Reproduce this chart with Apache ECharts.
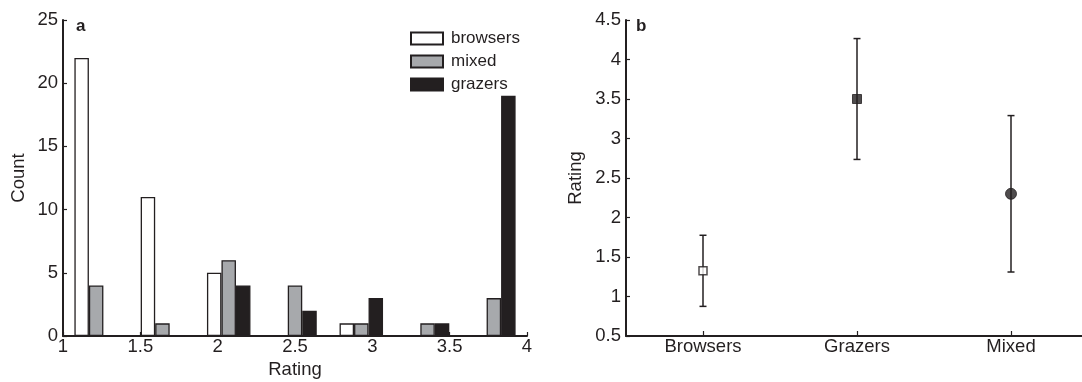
<!DOCTYPE html>
<html>
<head>
<meta charset="utf-8">
<script src="https://cdn.jsdelivr.net/npm/echarts@6/dist/echarts.min.js"></script>
<style>
html,body{margin:0;padding:0;background:#fff;}
#chart{width:1082px;height:382px;}
</style>
</head>
<body>
<div id="chart"></div>
<script>
// ---- Panel a: histogram ----
const binCenters = [1.2143, 1.6429, 2.0714, 2.5, 2.9286, 3.3571, 3.7857];
const browsers = [22, 11, 5, 0, 1, 0, 0];
const mixed    = [4, 1, 6, 4, 1, 1, 3];
const grazers  = [0, 0, 4, 2, 3, 1, 19];
const histTicksX = ['1', '1.5', '2', '2.5', '3', '3.5', '4'];

// ---- Panel b: means with error bars ----
const groups = ['Browsers', 'Grazers', 'Mixed'];
const means  = [1.325, 3.5, 2.3];
const errs   = [0.45, 0.765, 0.99];

const FONT = '"Liberation Sans", Arial, Helvetica, sans-serif';
const INK = '#231f20';
const GREY = '#a7a9ac';

function pairs(xs, ys){ return xs.map((x,i)=>[x, ys[i]]); }

const chart = echarts.init(document.getElementById('chart'), null, {renderer:'canvas'});

const axisCommon = {
  axisLine: {show:true, lineStyle:{color:INK, width:2}},
  axisTick: {show:true, inside:true, length:4, lineStyle:{color:INK, width:1.2}},
  splitLine: {show:false},
  axisLabel: {color:INK, fontSize:18.5, fontFamily:FONT},
  nameTextStyle: {color:INK, fontSize:18.5, fontFamily:FONT}
};

const barStyle = (c) => ({color:c, borderColor:INK, borderWidth:1.3});

const option = {
  backgroundColor:'#fff',
  animation:false,
  textStyle:{fontFamily:FONT},
  grid: [
    {left:63, right:555, top:20, bottom:46, containLabel:false, outerBoundsMode:'none'},
    {left:626, right:-6, top:20, bottom:46, containLabel:false, outerBoundsMode:'none'}
  ],
  legend: {
    data:['browsers','mixed','grazers'],
    orient:'vertical',
    left:410, top:30,
    itemWidth:32, itemHeight:12, itemGap:6,
    padding:0,
    icon:'rect',
    textStyle:{color:INK, fontSize:17, fontFamily:FONT, padding:[0,0,0,3]}
  },
  xAxis: [
    Object.assign({}, axisCommon, {
      gridIndex:0, type:'value', min:1, max:4, interval:0.5,
      name:'Rating', nameLocation:'middle', nameGap:22,
      axisLabel: Object.assign({}, axisCommon.axisLabel, {margin:1,
        formatter:(v)=>{ const i = Math.round((v-1)/0.5); return histTicksX[i]; }})
    }),
    Object.assign({}, axisCommon, {
      gridIndex:1, type:'category', data:groups, boundaryGap:true,
      axisTick:{show:true, inside:true, length:5, alignWithLabel:true, lineStyle:{color:INK, width:1.2}},
      axisLabel: Object.assign({}, axisCommon.axisLabel, {margin:1})
    })
  ],
  yAxis: [
    Object.assign({}, axisCommon, {
      gridIndex:0, type:'value', min:0, max:25, interval:5,
      name:'Count', nameLocation:'middle', nameGap:35, nameRotate:90,
      axisLabel: Object.assign({}, axisCommon.axisLabel, {margin:5})
    }),
    Object.assign({}, axisCommon, {
      gridIndex:1, type:'value', min:0.5, max:4.5, interval:0.5,
      name:'Rating', nameLocation:'middle', nameGap:41, nameRotate:90,
      axisLabel: Object.assign({}, axisCommon.axisLabel, {margin:5})
    })
  ],
  series: [
    {name:'browsers', type:'bar', xAxisIndex:0, yAxisIndex:0, data:pairs(binCenters, browsers),
     barWidth:14.5, barGap:'0%', itemStyle:barStyle('#ffffff')},
    {name:'mixed', type:'bar', xAxisIndex:0, yAxisIndex:0, data:pairs(binCenters, mixed),
     barWidth:14.5, barGap:'0%', itemStyle:barStyle(GREY)},
    {name:'grazers', type:'bar', xAxisIndex:0, yAxisIndex:0, data:pairs(binCenters, grazers),
     barWidth:14.5, barGap:'0%', itemStyle:barStyle(INK)},
    {
      type:'custom', xAxisIndex:1, yAxisIndex:1,
      data: groups.map((g,i)=>[i, means[i]-errs[i], means[i]+errs[i]]),
      renderItem:(params, api)=>{
        const x = api.value(0);
        const lo = api.coord([x, api.value(1)]);
        const hi = api.coord([x, api.value(2)]);
        const cap = 3.5;
        const st = {stroke:INK, lineWidth:1.5};
        return {type:'group', children:[
          {type:'line', shape:{x1:lo[0], y1:lo[1], x2:hi[0], y2:hi[1]}, style:st},
          {type:'line', shape:{x1:lo[0]-cap, y1:lo[1], x2:lo[0]+cap, y2:lo[1]}, style:st},
          {type:'line', shape:{x1:hi[0]-cap, y1:hi[1], x2:hi[0]+cap, y2:hi[1]}, style:st}
        ]};
      },
      z:2
    },
    {
      type:'scatter', xAxisIndex:1, yAxisIndex:1, z:3,
      data:[
        {value:[0, means[0]], symbol:'rect', symbolSize:8, itemStyle:{color:'#fff', borderColor:INK, borderWidth:1.5}},
        {value:[1, means[1]], symbol:'rect', symbolSize:9, itemStyle:{color:INK, borderColor:INK, borderWidth:1}},
        {value:[2, means[2]], symbol:'circle', symbolSize:11, itemStyle:{color:INK, borderColor:INK, borderWidth:1}}
      ]
    }
  ],
  graphic: [
    {type:'text', left:76, top:18, style:{text:'a', font:'bold 17px ' + FONT, fill:INK}},
    {type:'text', left:636, top:18, style:{text:'b', font:'bold 17px ' + FONT, fill:INK}}
  ]
};

chart.setOption(option);
</script>
</body>
</html>
